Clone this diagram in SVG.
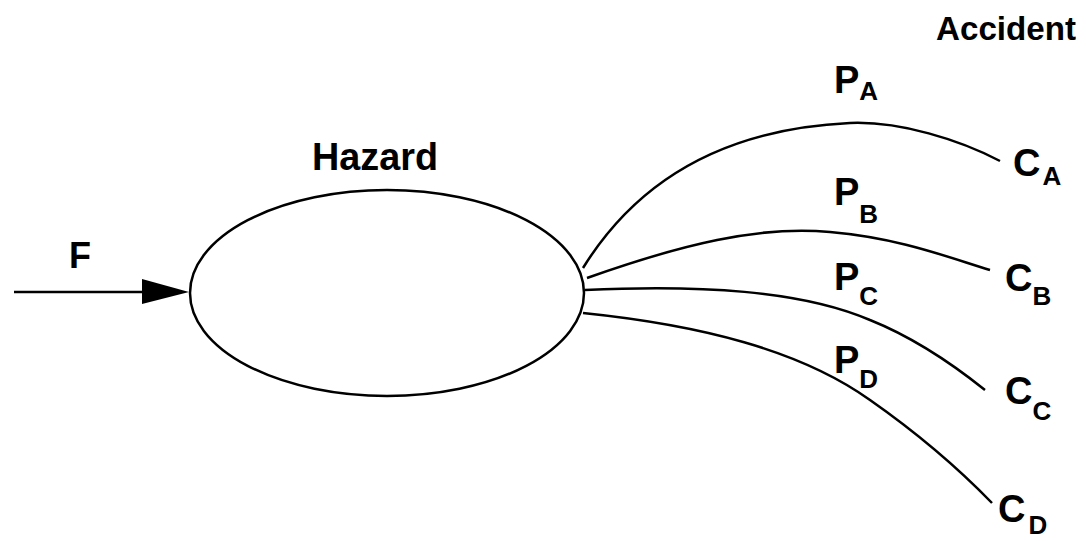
<svg xmlns="http://www.w3.org/2000/svg" width="1086" height="541" viewBox="0 0 1086 541">
<style>
.t{font-family:"Liberation Sans",Arial,sans-serif;font-weight:bold;fill:#000}
.big{font-size:38px}
.sub{font-size:26px}
.ln{fill:none;stroke:#000;stroke-width:2.5}
</style>
<rect width="1086" height="541" fill="#fff"/>
<g id="connectors">
<line class="ln" x1="14" y1="292" x2="150" y2="292"/>
<polygon points="142,279 189,292 142,304" fill="#000"/>
<path class="ln" d="M583,268 C625,200 700,130 850,123 C900,121 960,140 1000,161"/>
<path class="ln" d="M587,278 C680,245 760,225 830,232 C900,238 950,258 990,270"/>
<path class="ln" d="M585,290 C700,285 800,290 870,320 C920,340 960,370 985,390"/>
<path class="ln" d="M583,313 C700,325 800,350 870,400 C920,435 960,470 992,503"/>
</g>
<g id="hazard">
<ellipse class="ln" cx="387" cy="293" rx="197" ry="103"/>
<text class="t big" x="312" y="170" textLength="126" lengthAdjust="spacingAndGlyphs">Hazard</text>
</g>
<g id="f"><text class="t" style="font-size:36px" x="69" y="268">F</text></g>
<g id="accident"><text class="t" style="font-size:34px" x="936" y="40" textLength="140" lengthAdjust="spacingAndGlyphs">Accident</text></g>
<g id="pa"><text class="t big" x="834" y="93">P<tspan class="sub" dy="7">A</tspan></text></g>
<g id="pb"><text class="t big" x="834" y="205">P<tspan class="sub" dy="18">B</tspan></text></g>
<g id="pc"><text class="t big" x="834" y="290">P<tspan class="sub" dy="15">C</tspan></text></g>
<g id="pd"><text class="t big" x="834" y="373">P<tspan class="sub" dy="15">D</tspan></text></g>
<g id="ca"><text class="t big" x="1013" y="176">C<tspan class="sub" dx="2" dy="9">A</tspan></text></g>
<g id="cb"><text class="t big" x="1005" y="291">C<tspan class="sub" dy="14">B</tspan></text></g>
<g id="cc"><text class="t big" x="1005" y="404">C<tspan class="sub" dy="16">C</tspan></text></g>
<g id="cd"><text class="t big" x="998" y="522">C<tspan class="sub" dx="3" dy="12">D</tspan></text></g>
</svg>
